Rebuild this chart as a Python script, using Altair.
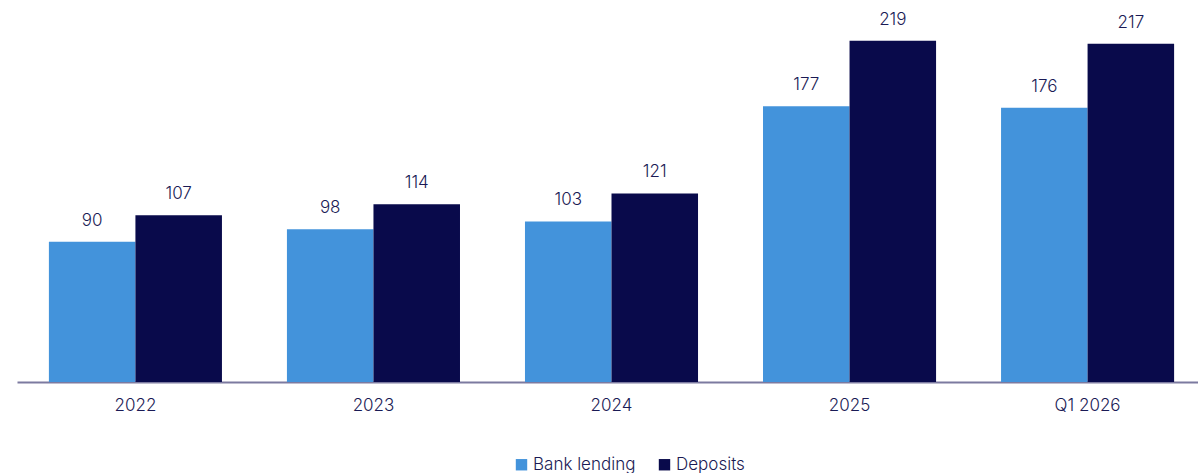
import altair as alt
import pandas as pd

categories = ["2022", "2023", "2024", "2025", "Q1 2026"]
bank_lending = [90, 98, 103, 177, 176]
deposits = [107, 114, 121, 219, 217]
series = ["Bank lending", "Deposits"]
colors = ["#4393db", "#090a4b"]

rows = []
for c, b, d in zip(categories, bank_lending, deposits):
    rows.append({"cat": c, "series": series[0], "value": b})
    rows.append({"cat": c, "series": series[1], "value": d})
df = pd.DataFrame(rows)

FONT = "Inter"
TXT = "#1a1a55"

xenc = alt.X("cat:N", sort=categories, title=None,
             scale=alt.Scale(range=[0, 1189], paddingInner=0.273, paddingOuter=0.134),
             axis=alt.Axis(labelAngle=0, ticks=False, domainColor="#7c7aa0", domainWidth=2,
                           labelFontSize=17, labelFontWeight=300, labelColor=TXT, labelFont=FONT,
                           labelPadding=15))
yenc = alt.Y("value:Q", scale=alt.Scale(domain=[0, 240]), axis=None)
xoff = alt.XOffset("series:N", sort=series, scale=alt.Scale(paddingInner=0, paddingOuter=0))

base = alt.Chart(df)
bars = base.mark_bar().encode(
    x=xenc, y=yenc, xOffset=xoff,
    color=alt.Color("series:N", sort=series, scale=alt.Scale(domain=series, range=colors),
                    legend=alt.Legend(title=None, orient="none", legendX=496, legendY=448,
                                      direction="horizontal", symbolType="square", symbolSize=130,
                                      symbolStrokeWidth=0, labelFontSize=17, labelFontWeight=300,
                                      labelColor=TXT, labelFont=FONT,
                                      columnPadding=20, labelOffset=3)),
)
labels = base.mark_text(baseline="bottom", dy=-12, fontSize=17, fontWeight=300, color=TXT, font=FONT).encode(
    x=alt.X("cat:N", sort=categories), y="value:Q", xOffset=xoff, text="value:Q"
)

chart = (bars + labels).properties(
    width=1181, height=374,
    background="white",
    autosize=alt.AutoSizeParams(type="none"),
    padding={"left": 17, "top": 8, "right": 0, "bottom": 91},
).configure_view(stroke=None)

chart.save("out.html", embed_options={"renderer": "svg", "actions": False})
